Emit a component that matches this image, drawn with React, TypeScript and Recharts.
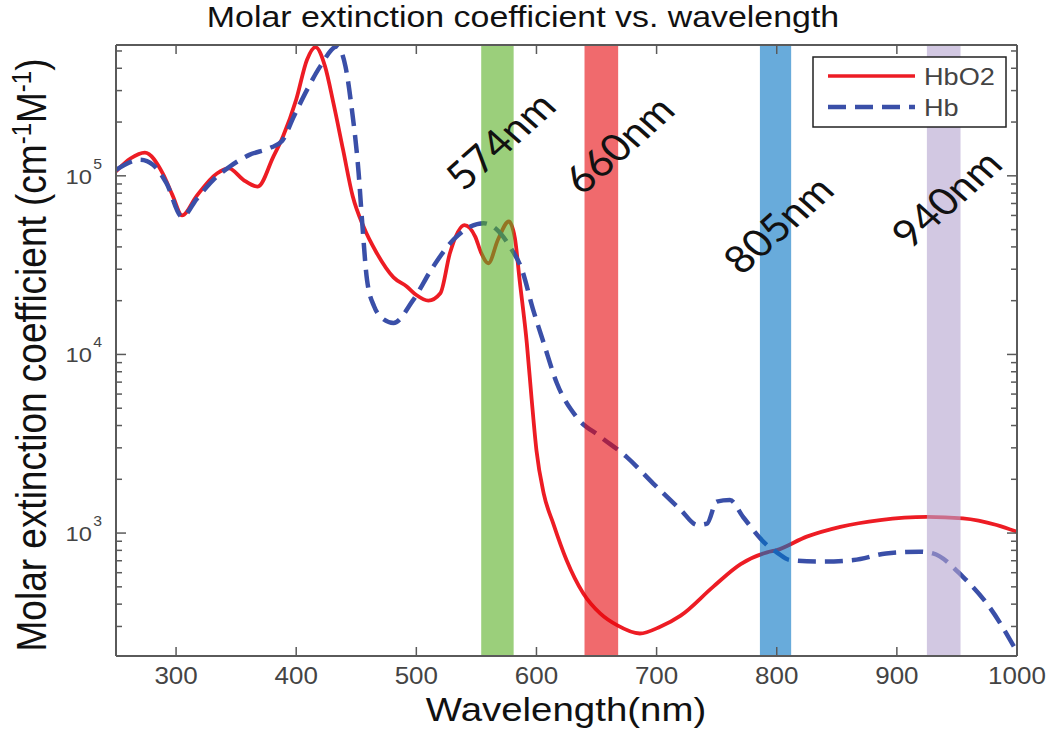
import React from 'react';
import { LineChart, Line, XAxis, YAxis, ReferenceArea, Legend } from 'recharts';

// ---------- data ----------
const hbo2Wavelengths = [250, 262, 274, 289, 297, 305, 317, 334, 344, 356, 368, 381, 389, 400, 409, 416, 424, 431, 439, 447, 456, 467, 481, 492, 500, 510, 520, 528, 540, 549, 554, 560, 568, 577, 582, 586, 592, 596, 600, 606, 614, 625, 639, 653, 667, 686, 703, 720, 747, 770, 792, 800, 825, 853, 886, 925, 955, 983, 1000];
const hbo2Values = [106000, 125000, 135000, 103000, 78000, 60000, 77000, 103000, 110000, 95000, 87000, 128000, 166000, 267000, 447000, 526000, 410000, 255000, 140000, 77000, 52000, 37000, 27000, 24000, 21500, 20000, 22000, 37000, 53000, 45700, 37000, 32400, 44000, 55500, 45000, 26000, 11500, 5600, 2900, 1670, 1130, 707, 459, 355, 305, 274, 299, 345, 500, 670, 780, 803, 955, 1084, 1183, 1232, 1208, 1109, 1016];

const hbWavelengths = [250, 270, 281, 292, 305, 317, 331, 345, 361, 378, 388, 398, 409, 420, 434, 441, 446, 452, 455, 459, 465, 470, 481, 497, 514, 531, 545, 556, 567, 578, 588, 597, 606, 617, 633, 653, 675, 697, 720, 734, 742, 750, 761, 772, 792, 800, 811, 836, 864, 891, 919, 930, 955, 977, 1000];
const hbValues = [108000, 123000, 115000, 91000, 59000, 74000, 95000, 113000, 131000, 143000, 156000, 215000, 303000, 410000, 530000, 410000, 245000, 103000, 54000, 26000, 18500, 16300, 15000, 20000, 31000, 44000, 52000, 54300, 50000, 40000, 29700, 18000, 11600, 6900, 4490, 3470, 2670, 1900, 1350, 1110, 1130, 1500, 1530, 1230, 855, 780, 706, 692, 706, 769, 786, 769, 569, 386, 216];

const seriesNames = ['HbO2', 'Hb'];

const xTicks = [300, 400, 500, 600, 700, 800, 900, 1000];
const yTicks = [
  300, 400, 500, 600, 700, 800, 900,
  1000, 2000, 3000, 4000, 5000, 6000, 7000, 8000, 9000,
  10000, 20000, 30000, 40000, 50000, 60000, 70000, 80000, 90000,
  100000, 200000, 300000, 400000, 500000,
];
const xDomain = [250, 1000];
const yDomain = [205, 540000];

const bandStarts = [554, 640, 786, 925];
const bandEnds = [581, 668, 812, 953];
const bandLabels = ['574nm', '660nm', '805nm', '940nm'];

// ---------- styles ----------
const bandColors = ['#58af23', '#e6070c', '#0373c3', '#b4a3cf'];
const bandLabelPlacement = [
  { dx: 2, dy: 95 },
  { dx: 17, dy: 99 },
  { dx: 2, dy: 179 },
  { dx: 2, dy: 153 },
];
const AXIS = '#5a5a5a';
const FONT = '"Liberation Sans", Arial, Helvetica, sans-serif';
const SX = 1.13;
const RED = '#ed1c24';
const BLUE = '#3a4fa8';

const hbo2Data = hbo2Wavelengths.map((x, i) => ({ x, y: hbo2Values[i] }));
const hbData = hbWavelengths.map((x, i) => ({ x, y: hbValues[i] }));

const isMajor = (v: number) => Math.abs(Math.log10(v) - Math.round(Math.log10(v))) < 1e-6;

const renderXBottom = (p: any) => {
  const { x, y, payload } = p;
  return (
    <g>
      <line x1={x} x2={x} y1={y} y2={y - 9} stroke={AXIS} strokeWidth={1.5} />
      <text
        transform={`translate(${x},${y + 28}) scale(${SX},1)`}
        textAnchor="middle"
        fontSize={23}
        fontFamily={FONT}
        fill="#444"
      >
        {payload.value}
      </text>
    </g>
  );
};

const renderXTop = (p: any) => {
  const { x, y } = p;
  return <line x1={x} x2={x} y1={y} y2={y + 9} stroke={AXIS} strokeWidth={1.5} />;
};

const renderYLeft = (p: any) => {
  const { x, y, payload } = p;
  const v = payload.value;
  const major = isMajor(v);
  return (
    <g>
      <line x1={x} x2={x + (major ? 10 : 6)} y1={y} y2={y} stroke={AXIS} strokeWidth={1.5} />
      {major && (
        <g transform={`translate(${x - 24},${y}) scale(${SX},1)`} fontFamily={FONT} fill="#444">
          <text x={0} y={8} textAnchor="end" fontSize={21}>10</text>
          <text x={1} y={-7} textAnchor="start" fontSize={14}>{Math.round(Math.log10(v))}</text>
        </g>
      )}
    </g>
  );
};

const renderYRight = (p: any) => {
  const { x, y, payload } = p;
  const major = isMajor(payload.value);
  return <line x1={x} x2={x - (major ? 10 : 6)} y1={y} y2={y} stroke={AXIS} strokeWidth={1.5} />;
};

const renderYLabel = () => (
  <text
    transform={`translate(46,355) scale(${SX},1) rotate(-90)`}
    textAnchor="middle"
    fontSize={37}
    fontFamily={FONT}
    fill="#111"
  >
    Molar extinction coefficient (cm
    <tspan dy={-13} fontSize={24}>-1</tspan>
    <tspan dy={13}>M</tspan>
    <tspan dy={-13} fontSize={24}>-1</tspan>
    <tspan dy={13}>)</tspan>
  </text>
);

const renderXLabel = () => (
  <text
    transform={`translate(566,721) scale(${SX},1)`}
    textAnchor="middle"
    fontSize={34}
    fontFamily={FONT}
    fill="#111"
  >
    Wavelength(nm)
  </text>
);

const renderLegend = (props: any) => {
  const items = [...(props.payload || [])].sort(
    (a: any, b: any) => seriesNames.indexOf(a.value) - seriesNames.indexOf(b.value)
  );
  return (
    <svg width={196} height={73} style={{ display: 'block' }}>
      <rect x={1} y={1} width={193} height={70} fill="#fff" stroke="#222" strokeWidth={1.5} />
      {items.map((it: any, i: number) => {
        const yy = 20 + 31 * i;
        const dash = it.payload && it.payload.strokeDasharray;
        return (
          <g key={`lg-${i}`}>
            <line x1={16} x2={103} y1={yy} y2={yy} stroke={it.color} strokeWidth={dash ? 4.5 : 3.5} strokeDasharray={dash} />
            <text transform={`translate(112,${yy + 9}) scale(${SX},1)`} fontSize={24} fontFamily={FONT} fill="#444">
              {it.value}
            </text>
          </g>
        );
      })}
    </svg>
  );
};

const makeBandLabel = (i: number) => (p: any) => {
  const vb = p.viewBox || {};
  const cx = (vb.x || 0) + (vb.width || 0) / 2 + bandLabelPlacement[i].dx;
  const cy = (vb.y || 0) + bandLabelPlacement[i].dy;
  return (
    <text
      transform={`translate(${cx},${cy}) scale(${SX},1) rotate(-45)`}
      textAnchor="middle"
      dominantBaseline="central"
      fontSize={38}
      fontFamily='Lato, "Open Sans", sans-serif'
      fill="#111"
    >
      {bandLabels[i]}
    </text>
  );
};

export default function App() {
  return (
    <div style={{ position: 'absolute', left: 0, top: 0, width: 1050, height: 732, background: '#fff' }}>
      <LineChart width={1050} height={732} margin={{ top: 0, right: 0, bottom: 0, left: 0 }}>
        <XAxis
          xAxisId="b"
          type="number"
          dataKey="x"
          domain={xDomain}
          allowDataOverflow
          ticks={xTicks}
          interval={0}
          height={76}
          tickSize={0}
          tickMargin={0}
          tickLine={false}
          axisLine={{ stroke: AXIS, strokeWidth: 2 }}
          tick={renderXBottom}
          label={renderXLabel}
        />
        <XAxis
          xAxisId="t"
          orientation="top"
          type="number"
          dataKey="x"
          domain={xDomain}
          allowDataOverflow
          ticks={xTicks}
          interval={0}
          height={45}
          tickSize={0}
          tickMargin={0}
          tickLine={false}
          axisLine={{ stroke: AXIS, strokeWidth: 2 }}
          tick={renderXTop}
        />
        <YAxis
          yAxisId="l"
          type="number"
          scale="log"
          domain={yDomain}
          allowDataOverflow
          ticks={yTicks}
          interval={0}
          width={116}
          tickSize={0}
          tickMargin={0}
          tickLine={false}
          axisLine={{ stroke: AXIS, strokeWidth: 2 }}
          tick={renderYLeft}
          label={renderYLabel}
        />
        <YAxis
          yAxisId="r"
          orientation="right"
          type="number"
          scale="log"
          domain={yDomain}
          allowDataOverflow
          ticks={yTicks}
          interval={0}
          width={33}
          tickSize={0}
          tickMargin={0}
          tickLine={false}
          axisLine={{ stroke: AXIS, strokeWidth: 2 }}
          tick={renderYRight}
        />
        <Line
          xAxisId="b"
          yAxisId="l"
          data={hbo2Data}
          dataKey="y"
          name={seriesNames[0]}
          type="monotone"
          stroke={RED}
          strokeWidth={3.8}
          dot={false}
          isAnimationActive={false}
        />
        <Line
          xAxisId="b"
          yAxisId="l"
          data={hbData}
          dataKey="y"
          name={seriesNames[1]}
          type="monotone"
          stroke={BLUE}
          strokeWidth={4.5}
          strokeDasharray="18 9"
          dot={false}
          isAnimationActive={false}
        />
        {bandStarts.map((s, i) => (
          <ReferenceArea
            key={`band-${i}`}
            xAxisId="b"
            yAxisId="l"
            x1={s}
            x2={bandEnds[i]}
            fill={bandColors[i]}
            fillOpacity={0.6}
            stroke="none"
            zIndex={450}
            label={makeBandLabel(i)}
          />
        ))}
        <Legend
          layout="vertical"
          align="center"
          verticalAlign="middle"
          wrapperStyle={{ position: 'absolute', left: 812, top: 56, width: 196, height: 73 }}
          content={renderLegend}
        />
      </LineChart>
      <svg width={1050} height={40} style={{ position: 'absolute', left: 0, top: 0 }}>
        <text
          transform={`translate(523,27) scale(${SX},1)`}
          textAnchor="middle"
          fontSize={30}
          fontFamily={FONT}
          fill="#111"
        >
          Molar extinction coefficient vs. wavelength
        </text>
      </svg>
    </div>
  );
}
